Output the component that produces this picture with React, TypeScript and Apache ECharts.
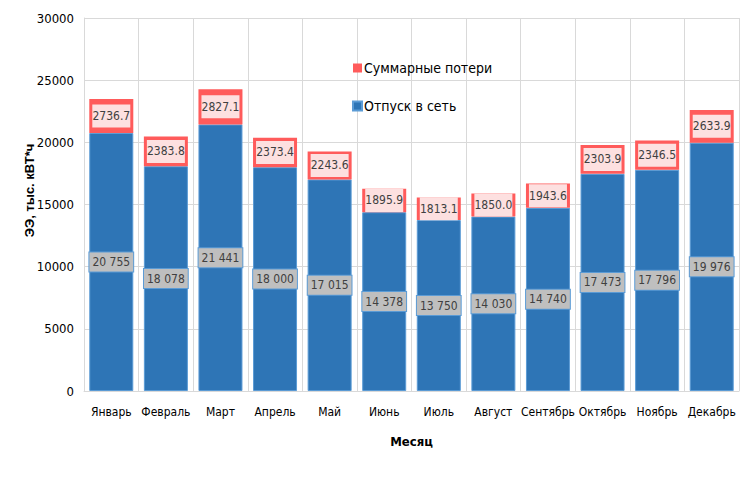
import React, { useEffect, useRef } from "react";
import * as echarts from "echarts";

const months = ["Январь", "Февраль", "Март", "Апрель", "Май", "Июнь", "Июль", "Август", "Сентябрь", "Октябрь", "Ноябрь", "Декабрь"];
const supply = [20755, 18078, 21441, 18000, 17015, 14378, 13750, 14030, 14740, 17473, 17796, 19976];
const losses = [2736.7, 2383.8, 2827.1, 2373.4, 2243.6, 1895.9, 1813.1, 1850.0, 1943.6, 2303.9, 2346.5, 2633.9];

const FONT = "'Liberation Sans Narrow', 'Arial Narrow', 'DejaVu Sans Condensed', 'Liberation Sans', sans-serif";

function fmtThousands(v: number): string {
  return String(Math.round(v)).replace(/\B(?=(\d{3})+(?!\d))/g, " ");
}

export default function App() {
  const ref = useRef<HTMLDivElement>(null);
  useEffect(() => {
    if (!ref.current) return;
    const chart = echarts.init(ref.current, null, { renderer: "svg" });
    chart.setOption({
      animation: false,
      backgroundColor: "#ffffff",
      textStyle: { fontFamily: FONT },
      graphic: [
        {
          type: "rect",
          shape: { x: 5, y: 5, width: 800, height: 600 },
          style: { fill: "none", stroke: "#d9d9d9", lineWidth: 1 },
          silent: true,
          z: -10,
        },
      ],
      legend: {
        orient: "vertical",
        left: 347,
        top: 56,
        itemGap: 24,
        itemWidth: 9,
        itemHeight: 9,
        icon: "rect",
        data: ["Суммарные потери", "Отпуск в сеть"],
        textStyle: { fontFamily: FONT, fontSize: 14, color: "#000000", padding: [0, 0, 0, -3] },
      },
      grid: { left: 84, right: 14, top: 18, bottom: 95, containLabel: false },
      xAxis: {
        type: "category",
        data: months,
        name: "Месяц",
        nameLocation: "middle",
        nameGap: 44,
        nameTextStyle: { fontFamily: FONT, fontSize: 13, fontWeight: "bold", color: "#000000" },
        axisLine: { show: true, lineStyle: { color: "#d9d9d9" } },
        axisTick: { show: false },
        axisLabel: { fontFamily: FONT, fontSize: 12, color: "#000000", margin: 15, interval: 0 },
        splitLine: { show: true, interval: 0, lineStyle: { color: "#d9d9d9" } },
      },
      yAxis: {
        type: "value",
        min: 0,
        max: 30000,
        interval: 5000,
        name: "ЭЭ, тыс. кВТ*ч",
        nameLocation: "middle",
        nameGap: 48,
        nameMoveOverlap: false,
        nameTextStyle: { fontFamily: "'Liberation Sans', Arial, sans-serif", fontSize: 13, fontWeight: "bold", color: "#000000", padding: [0, 0, 0, 28] },
        axisLine: { show: true, lineStyle: { color: "#d9d9d9" } },
        axisTick: { show: false },
        axisLabel: { fontFamily: FONT, fontSize: 13, color: "#000000", margin: 10, formatter: (v: number) => String(v) },
        splitLine: { show: true, lineStyle: { color: "#d9d9d9" } },
      },
      series: [
        {
          name: "Отпуск в сеть",
          type: "bar",
          stack: "total",
          barWidth: 44,
          data: supply,
          itemStyle: { color: "#2e75b6", borderColor: "#5b9bd5", borderWidth: 1 },
          label: {
            show: true,
            position: "inside",
            formatter: (p: any) => fmtThousands(p.value),
            fontFamily: FONT,
            fontSize: 12,
            color: "#404040",
            backgroundColor: "#bfbfbf",
            borderColor: "#5b9bd5",
            borderWidth: 1,
            borderRadius: 0,
            padding: [4, 3, 3, 3],
          },
        },
        {
          name: "Суммарные потери",
          type: "bar",
          stack: "total",
          barWidth: 44,
          data: losses,
          itemStyle: { color: "#ff5b5b" },
          label: {
            show: true,
            position: "inside",
            formatter: (p: any) => Number(p.value).toFixed(1),
            fontFamily: FONT,
            fontSize: 12,
            color: "#404040",
            backgroundColor: "#fde0e0",
            borderRadius: 0,
            width: 34,
            align: "center",
            padding: [6, 2, 5, 2],
          },
        },
      ],
      color: ["#2e75b6", "#ff5b5b"],
    });
    return () => chart.dispose();
  }, []);
  return <div ref={ref} style={{ width: 753, height: 486, margin: -8 }} />;
}
